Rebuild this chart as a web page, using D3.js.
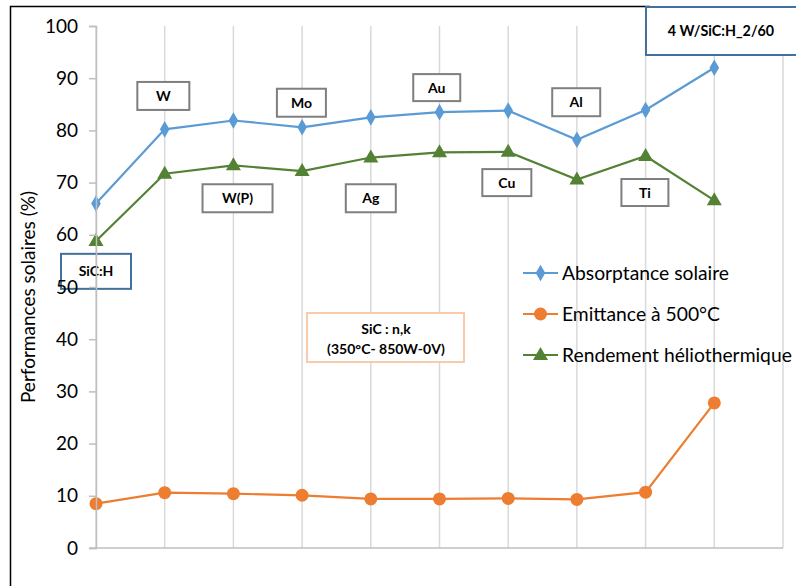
<!DOCTYPE html>
<html><head><meta charset="utf-8">
<script src="https://cdn.jsdelivr.net/npm/d3@7"></script>
<style>body{margin:0;background:#fff}svg{display:block}text{font-family:Lato,"Open Sans",sans-serif}</style>
</head><body>
<script>
const categories = ["SiC:H","W","W(P)","Mo","Ag","Au","Cu","Al","Ti","4 W/SiC:H_2/60"];
const absorptance = [66.0, 80.2, 81.9, 80.6, 82.5, 83.5, 83.8, 78.2, 83.9, 92.0];
const emittance = [8.5, 10.6, 10.4, 10.1, 9.4, 9.4, 9.5, 9.3, 10.7, 27.8];
const rendement = [58.8, 71.7, 73.3, 72.2, 74.8, 75.8, 75.9, 70.6, 75.1, 66.6];
const yTicks = [0,10,20,30,40,50,60,70,80,90,100];
const seriesNames = ["Absorptance solaire","Emittance à 500°C","Rendement héliothermique"];

const W = 796, H = 586;
const svg = d3.select("body").append("svg").attr("width", W).attr("height", H);
const x = d3.scaleLinear().domain([0, 10]).range([96, 783]);
const y = d3.scaleLinear().domain([0, 100]).range([548, 26]);

// outer border (left and top)
svg.append("path").attr("d","M10.5,586 V6.5 H650").attr("fill","none").attr("stroke","#000").attr("stroke-width",1.5);

// vertical gridlines
svg.append("g").selectAll("line").data(d3.range(0, 11)).join("line")
  .attr("x1", d => x(d)).attr("x2", d => x(d)).attr("y1", y(100)).attr("y2", y(0))
  .attr("stroke", "#d9d9d9").attr("stroke-width", 1.5);

// x axis baseline
svg.append("line").attr("x1", x(0) - 7).attr("x2", x(10)).attr("y1", y(0)).attr("y2", y(0))
  .attr("stroke", "#bfbfbf").attr("stroke-width", 1.5);

svg.append("text").attr("transform", `translate(35,${(y(0)+y(100))/2 + 10}) rotate(-90)`)
  .attr("text-anchor", "middle").attr("font-size", 19).text("Performances solaires (%)");

const colors = ["#5B9BD5", "#ED7D31", "#548235"];
const data = [absorptance, emittance, rendement];
const line = d3.line().x((d, i) => x(i)).y(d => y(d));

data.forEach((vals, s) => {
  svg.append("path").datum(vals).attr("d", line).attr("fill", "none")
    .attr("stroke", colors[s]).attr("stroke-width", 2.2);
});

function marker(g, s, cx, cy) {
  if (s === 0) {
    g.append("path").attr("d", d3.symbol(d3.symbolDiamond, 80)()).attr("transform", `translate(${cx},${cy})`).attr("fill", colors[0]);
  } else if (s === 1) {
    g.append("circle").attr("cx", cx).attr("cy", cy).attr("r", 6.5).attr("fill", colors[1]);
  } else {
    g.append("path").attr("d", "M0,-8 L7.5,5 L-7.5,5 Z").attr("transform", `translate(${cx},${cy})`).attr("fill", colors[2]);
  }
}
const mg = svg.append("g");
data.forEach((vals, s) => vals.forEach((v, i) => marker(mg, s, x(i), y(v))));

// annotation boxes
const annotations = [
  {cat: 1, xi: 0.98, yv: 86.6, w: 52, h: 28, c: "#7f7f7f", fill: "#fff"},
  {cat: 2, xi: 2.06, yv: 67.0, w: 70, h: 28, c: "#7f7f7f", fill: "#fff"},
  {cat: 3, xi: 2.99, yv: 85.3, w: 49, h: 28, c: "#7f7f7f", fill: "#fff"},
  {cat: 4, xi: 4.0, yv: 67.0, w: 50, h: 28, c: "#7f7f7f", fill: "#fff"},
  {cat: 5, xi: 4.96, yv: 88.2, w: 47, h: 27, c: "#7f7f7f", fill: "#fff"},
  {cat: 6, xi: 5.98, yv: 70.0, w: 49, h: 27, c: "#7f7f7f", fill: "#fff"},
  {cat: 7, xi: 6.99, yv: 85.4, w: 48, h: 28, c: "#7f7f7f", fill: "#fff"},
  {cat: 8, xi: 7.99, yv: 68.1, w: 47, h: 27, c: "#7f7f7f", fill: "#fff"},
  {cat: 0, xi: 0.0, yv: 53.0, w: 70, h: 35, c: "#41719C", fill: "none"}
];
const ag = svg.append("g");
annotations.forEach(a => {
  const cx = x(a.xi), cy = y(a.yv);
  ag.append("rect").attr("x", cx - a.w/2).attr("y", cy - a.h/2).attr("width", a.w).attr("height", a.h)
    .attr("fill", a.fill).attr("stroke", a.c).attr("stroke-width", 2);
  ag.append("text").attr("x", cx).attr("y", cy + 5).attr("text-anchor", "middle")
    .attr("font-size", 14).attr("font-weight", "bold").text(categories[a.cat]);
});
// top-right box
ag.append("rect").attr("x", 646).attr("y", 7).attr("width", 160).attr("height", 48)
  .attr("fill", "#fff").attr("stroke", "#41719C").attr("stroke-width", 2);
ag.append("text").attr("x", 721).attr("y", 36).attr("text-anchor", "middle")
  .attr("font-size", 14.3).attr("font-weight", "bold").text(categories[9]);
// SiC n,k box
ag.append("rect").attr("x", 307).attr("y", 313).attr("width", 157).attr("height", 49)
  .attr("fill", "#fff").attr("stroke", "#F8CBAD").attr("stroke-width", 2);
ag.append("text").attr("x", 386).attr("y", 334).attr("text-anchor", "middle")
  .attr("font-size", 14).attr("font-weight", "bold").text("SiC : n,k");
ag.append("text").attr("x", 386).attr("y", 354).attr("text-anchor", "middle")
  .attr("font-size", 14).attr("font-weight", "bold").text("(350°C- 850W-0V)");

// y axis (drawn on top of the boxes)
const yAxis = d3.axisLeft(y).tickValues(yTicks).tickSize(7).tickPadding(11);
const gy = svg.append("g").attr("transform", `translate(${x(0)},0)`).call(yAxis);
gy.select(".domain").attr("stroke", "#bfbfbf").attr("stroke-width", 1.5);
gy.selectAll(".tick line").attr("stroke", "#bfbfbf").attr("stroke-width", 1.5);
gy.selectAll(".tick text").attr("font-size", 19).attr("fill", "#000").attr("font-family","Lato");

// legend
const lg = svg.append("g");
seriesNames.forEach((n, s) => {
  const ly = 273 + s * 41;
  lg.append("line").attr("x1", 523).attr("x2", 558).attr("y1", ly).attr("y2", ly)
    .attr("stroke", colors[s]).attr("stroke-width", 2.2);
  marker(lg, s, 540.5, ly);
  lg.append("text").attr("x", 562).attr("y", ly + 6.5).attr("font-size", 19.3).text(n);
});
</script>
</body></html>
